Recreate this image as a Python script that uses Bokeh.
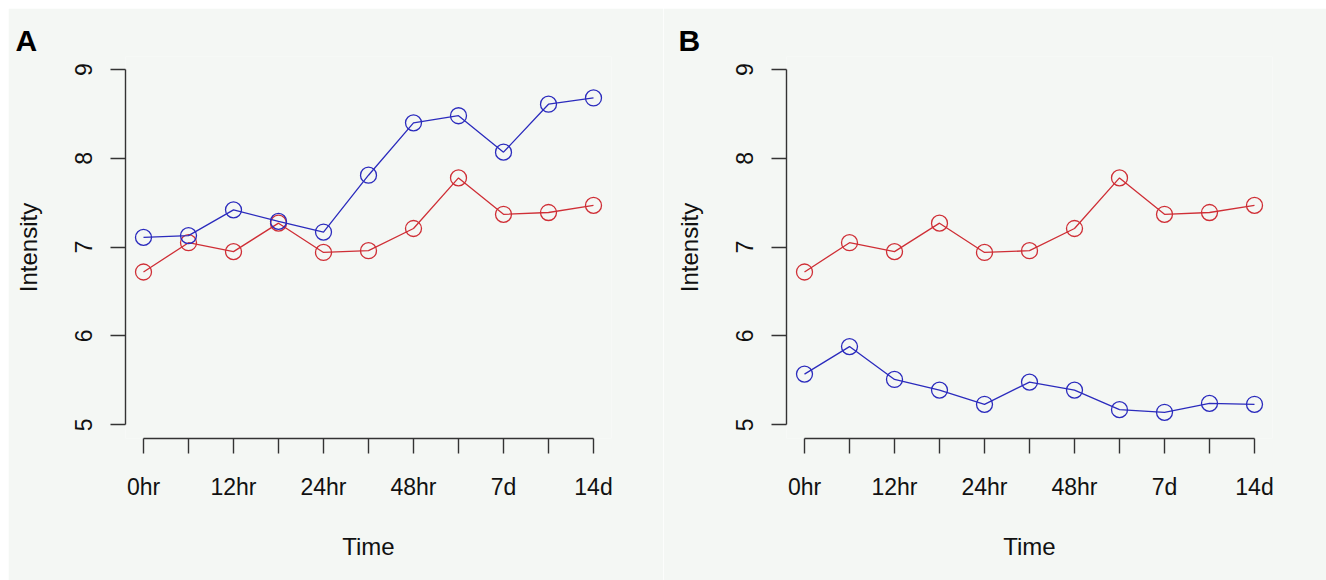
from bokeh.plotting import figure
from bokeh.layouts import row
from bokeh.models import LinearAxis, FixedTicker, Range1d
from bokeh.embed import file_html
from bokeh.resources import INLINE

# ---- data ----
time_points = [1, 2, 3, 4, 5, 6, 7, 8, 9, 10, 11]
x_tick_labels = ["0hr", "", "12hr", "", "24hr", "", "48hr", "", "7d", "", "14d"]
y_ticks = [5, 6, 7, 8, 9]

a_blue = [7.11, 7.13, 7.42, 7.29, 7.17, 7.81, 8.40, 8.48, 8.07, 8.61, 8.68]
a_red = [6.72, 7.05, 6.95, 7.27, 6.94, 6.96, 7.21, 7.78, 7.37, 7.39, 7.47]
b_blue = [5.57, 5.88, 5.51, 5.39, 5.23, 5.48, 5.39, 5.17, 5.14, 5.24, 5.23]
b_red = [6.72, 7.05, 6.95, 7.27, 6.94, 6.96, 7.21, 7.78, 7.37, 7.39, 7.47]

BG = "#f4f7f4"
BLUE = "#2b2bbd"
RED = "#cf2f36"
AXIS = "#333333"
FONT = "Liberation Sans"


def panel(tag, blue, red, width, border_left, border_right, title_offset):
    p = figure(width=width, height=572, output_backend="svg", toolbar_location=None,
               x_range=Range1d(0.6, 11.4), y_range=Range1d(4.845, 9.147),
               x_axis_location=None, y_axis_location=None,
               min_border_left=border_left, min_border_right=border_right,
               min_border_top=48, min_border_bottom=142,
               background_fill_color=BG, border_fill_color=BG)
    p.outline_line_color = None
    p.grid.visible = False

    xa = LinearAxis(ticker=FixedTicker(ticks=time_points), bounds=(1, 11),
                    axis_label="Time")
    xa.major_label_overrides = {t: lab for t, lab in zip(time_points, x_tick_labels)}
    ya = LinearAxis(ticker=FixedTicker(ticks=y_ticks), bounds=(5, 9),
                    axis_label="Intensity")
    for ax in (xa, ya):
        ax.axis_line_color = AXIS
        ax.axis_line_width = 1.4
        ax.major_tick_line_color = AXIS
        ax.major_tick_line_width = 1.4
        ax.major_tick_out = 15
        ax.major_tick_in = 0
        ax.minor_tick_line_color = None
        ax.major_label_text_font = FONT
        ax.major_label_text_font_size = "23px"
        ax.major_label_text_color = "#111111"
        ax.axis_label_text_font = FONT
        ax.axis_label_text_font_size = "24px"
        ax.axis_label_text_font_style = "normal"
        ax.axis_label_text_color = "#111111"
    xa.major_label_standoff = 20
    xa.axis_label_standoff = 30
    ya.major_label_orientation = "parallel"
    ya.major_label_standoff = 18
    ya.axis_label_standoff = 31
    p.add_layout(xa, "below")
    p.add_layout(ya, "left")

    for vals, col in ((red, RED), (blue, BLUE)):
        p.line(time_points, vals, line_color=col, line_width=1.3)
        p.scatter(time_points, vals, marker="circle", size=16, fill_color=None,
                  line_color=col, line_width=1.3)

    p.title.text = tag
    p.title.text_font = FONT
    p.title.text_font_size = "30px"
    p.title.text_font_style = "bold"
    p.title.text_color = "#000000"
    p.title.align = "left"
    p.title.offset = title_offset
    p.title.standoff = 0
    return p


pa = panel("A", a_blue, a_red, 655, 117, 52, -110)
pb = panel("B", b_blue, b_red, 663, 123, 54, -108)

layout = row(pa, pb, margin=(8, 0, 0, 8))
open("out.html", "w").write(file_html(layout, INLINE))
